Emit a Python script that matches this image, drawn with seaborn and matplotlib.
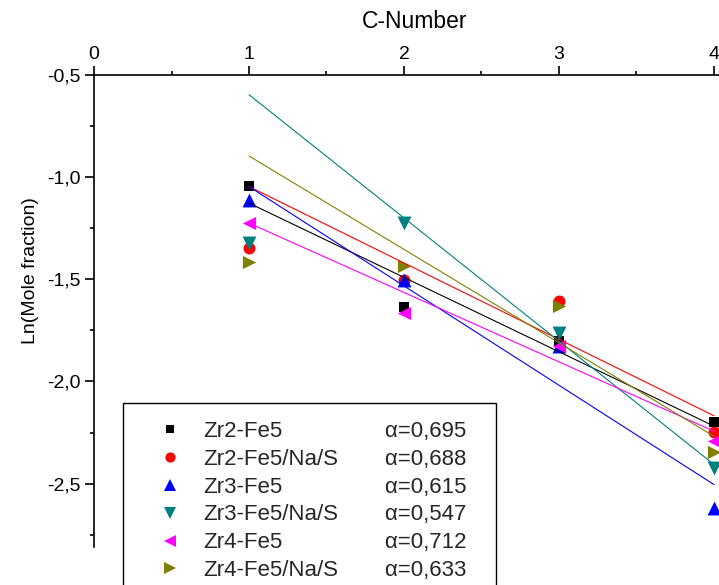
import numpy as np
import pandas as pd
import matplotlib
matplotlib.use("Agg")
import matplotlib.pyplot as plt
from matplotlib.lines import Line2D
from matplotlib.ticker import MultipleLocator, FuncFormatter
import seaborn as sns

# ---- data -------------------------------------------------------------
c_number = [1, 2, 3, 4]

series_names = ["Zr2-Fe5", "Zr2-Fe5/Na/S", "Zr3-Fe5",
                "Zr3-Fe5/Na/S", "Zr4-Fe5", "Zr4-Fe5/Na/S"]

zr2_fe5      = [-1.043, -1.636, -1.800, -2.199]
zr2_fe5_nas  = [-1.347, -1.505, -1.608, -2.249]
zr3_fe5      = [-1.114, -1.502, -1.825, -2.619]
zr3_fe5_nas  = [-1.320, -1.222, -1.763, -2.423]
zr4_fe5      = [-1.222, -1.665, -1.828, -2.290]
zr4_fe5_nas  = [-1.414, -1.437, -1.632, -2.347]

# chain-growth probability of each ASF fit (slope = ln alpha)
alpha_values = [0.695, 0.688, 0.615, 0.547, 0.712, 0.633]
alpha_labels = ["0,695", "0,688", "0,615", "0,547", "0,712", "0,633"]
# ASF fit intercepts (value of the fit line at C-Number = 0)
fit_intercepts = [-0.763, -0.672, -0.560, 0.007, -0.885, -0.439]

series_values = [zr2_fe5, zr2_fe5_nas, zr3_fe5, zr3_fe5_nas, zr4_fe5, zr4_fe5_nas]

# ---- styles -----------------------------------------------------------
colors  = ["#000000", "#FF0000", "#0000FF", "#008080", "#FF00FF", "#808000"]
markers = ["s", "o", "^", "v", "<", ">"]
msizes  = [7.2, 8.6, 10.0, 10.0, 9.5, 9.5]   # marker size in points

sns.set_style("white")
plt.rcParams["font.family"] = ["Liberation Sans", "DejaVu Sans"]

W, H = 719, 585
fig = plt.figure(figsize=(W / 100, H / 100), dpi=100)
ax = fig.add_axes([94 / W, 1 - 547 / H, 4.5 * 155 / W, (547 - 75) / H])

# data points
for name, vals, col, mk, ms in zip(series_names, series_values, colors, markers, msizes):
    sns.scatterplot(x=c_number, y=vals, marker=mk, color=col, s=ms ** 2,
                    linewidth=0, ax=ax, zorder=3, legend=False)

# ASF fit lines drawn from C=1 to C=4
fit_x = [c_number[0], c_number[-1]]
for a, b, col in zip(alpha_values, fit_intercepts, colors):
    fit_df = pd.DataFrame({"x": fit_x, "y": [b + np.log(a) * x for x in fit_x]})
    sns.lineplot(data=fit_df, x="x", y="y", color=col, linewidth=0.8,
                 ax=ax, zorder=4, legend=False)

# ---- axes -------------------------------------------------------------
ax.set_xlim(0, 4.5)
ax.set_ylim(-2.81, -0.5)

for side in ("right", "bottom"):
    ax.spines[side].set_visible(False)
for side in ("top", "left"):
    ax.spines[side].set_color("black")
    ax.spines[side].set_linewidth(1.2)

ax.xaxis.tick_top()
ax.xaxis.set_label_position("top")
ax.xaxis.set_major_locator(MultipleLocator(1))
ax.xaxis.set_minor_locator(MultipleLocator(0.5))
ax.yaxis.set_major_locator(MultipleLocator(0.5))
ax.yaxis.set_minor_locator(MultipleLocator(0.25))
ax.xaxis.set_major_formatter(FuncFormatter(lambda v, p: f"{v:.0f}"))
ax.yaxis.set_major_formatter(FuncFormatter(lambda v, p: f"{v:.1f}".replace(".", ",")))

ax.tick_params(axis="both", which="major", direction="out", length=6.5,
               width=1.2, color="black", labelsize=14, labelcolor="black")
ax.tick_params(axis="both", which="minor", direction="out", length=3.2,
               width=1.2, color="black")
ax.tick_params(axis="x", which="both", top=True, bottom=False,
               labeltop=True, labelbottom=False, pad=2)
ax.tick_params(axis="y", which="both", left=True, right=False, pad=3)

ax.set_xlabel("C-Number", fontsize=16.5, labelpad=13, color="black")
ax.set_ylabel("Ln(Mole fraction)", fontsize=14, labelpad=6, color="black")
ax.xaxis.label.set_x((415 - 94) / (4.5 * 155))
ax.yaxis.label.set_y((547 - 271) / (547 - 75))
ax.grid(False)

# ---- legend: marker, sample name, alpha ------------------------------
handles = [Line2D([], [], linestyle="none", marker=mk, color=col,
                  markeredgewidth=0, markersize=ms * 0.85)
           for col, mk, ms in zip(colors, markers, msizes)]
blank = [Line2D([], [], linestyle="none") for _ in alpha_labels]
labels = list(series_names) + [f"α={t}  " for t in alpha_labels]

leg = ax.legend(handles + blank, labels, ncol=2,
                loc="upper left", bbox_to_anchor=(123 / W, 1 - 403 / H),
                bbox_transform=fig.transFigure, borderaxespad=0,
                fontsize=16, frameon=True, fancybox=False, shadow=False,
                framealpha=1, edgecolor="black", handlelength=2.66,
                handletextpad=0.17, columnspacing=-0.75, labelspacing=0.31,
                borderpad=0.8)
leg.get_frame().set_linewidth(1.0)
leg.set_zorder(10)

fig.savefig("out.png", dpi=100, facecolor="white")
